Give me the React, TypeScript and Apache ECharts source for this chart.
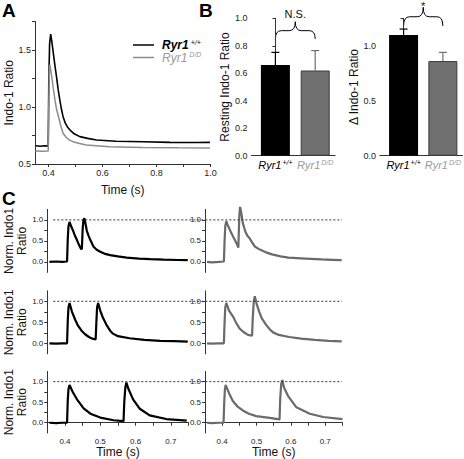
import React, { useEffect, useRef } from "react";
import * as echarts from "echarts";

// ---------- DATA ----------
const genotypeNames = ["Ryr1+/+", "Ryr1D/D"];

// Panel A: average Indo-1 ratio transients [time (s), ratio]
const traceA_WT: number[][] = [
  [0.352, 0.66], [0.37, 0.655], [0.385, 0.66], [0.399, 0.657], [0.401, 1.2], [0.404, 1.55],
  [0.408, 1.64], [0.412, 1.58], [0.418, 1.47], [0.424, 1.36], [0.43, 1.26], [0.436, 1.15],
  [0.442, 1.06], [0.448, 0.98], [0.454, 0.915], [0.462, 0.86], [0.47, 0.825], [0.479, 0.8],
  [0.495, 0.765], [0.516, 0.74], [0.545, 0.725], [0.578, 0.71], [0.65, 0.7], [0.75, 0.695],
  [0.85, 0.69], [0.95, 0.688], [0.998, 0.69],
];
const traceA_DD: number[][] = [
  [0.352, 0.615], [0.38, 0.612], [0.399, 0.615], [0.401, 1.0], [0.403, 1.3], [0.405, 1.37],
  [0.408, 1.33], [0.412, 1.266], [0.418, 1.16], [0.424, 1.06], [0.43, 0.98], [0.437, 0.915],
  [0.445, 0.84], [0.454, 0.77], [0.465, 0.735], [0.478, 0.71], [0.491, 0.696], [0.515, 0.68],
  [0.54, 0.667], [0.626, 0.652], [0.75, 0.645], [0.88, 0.642], [0.998, 0.64],
];

// Panel B: means and (upper) SEM
const restingMean = [0.66, 0.62];
const restingErr = [0.092, 0.145];
const deltaMean = [1.097, 0.861];
const deltaErr = [0.055, 0.079];

// Panel C: normalized Indo-1 ratio, paired stimuli at three intervals
const cRow1_WT: number[][] = [
  [0.356, 0.0], [0.375, 0.01], [0.392, 0.0], [0.406, 0.01], [0.408, 0.55], [0.41, 0.85],
  [0.413, 0.95], [0.417, 0.86], [0.424, 0.72], [0.429, 0.61], [0.434, 0.52], [0.44, 0.4],
  [0.446, 0.3], [0.448, 0.32], [0.45, 0.75], [0.452, 0.98], [0.455, 1.04], [0.458, 0.92],
  [0.462, 0.74], [0.467, 0.62], [0.472, 0.52], [0.477, 0.43], [0.481, 0.36], [0.49, 0.29],
  [0.5, 0.24], [0.514, 0.19], [0.528, 0.16], [0.55, 0.13], [0.575, 0.1], [0.61, 0.08],
  [0.642, 0.065], [0.68, 0.055], [0.72, 0.045], [0.748, 0.04],
];
const cRow2_WT: number[][] = [
  [0.356, 0.0], [0.375, -0.01], [0.392, 0.0], [0.406, 0.0], [0.408, 0.55], [0.41, 0.85],
  [0.413, 0.96], [0.42, 0.75], [0.429, 0.56], [0.437, 0.42], [0.447, 0.3], [0.458, 0.21],
  [0.468, 0.15], [0.478, 0.11], [0.487, 0.09], [0.489, 0.5], [0.491, 0.85], [0.494, 0.96],
  [0.5, 0.78], [0.508, 0.6], [0.519, 0.42], [0.528, 0.3], [0.536, 0.23], [0.55, 0.17],
  [0.583, 0.12], [0.625, 0.08], [0.67, 0.06], [0.71, 0.05], [0.748, 0.04],
];
const cRow3_WT: number[][] = [
  [0.356, 0.0], [0.375, -0.01], [0.392, 0.0], [0.406, 0.0], [0.408, 0.55], [0.41, 0.82],
  [0.413, 0.92], [0.422, 0.75], [0.434, 0.57], [0.453, 0.35], [0.472, 0.22], [0.5, 0.125],
  [0.538, 0.06], [0.566, 0.04], [0.568, 0.5], [0.571, 0.85], [0.574, 0.98], [0.58, 0.82],
  [0.593, 0.57], [0.612, 0.34], [0.64, 0.18], [0.687, 0.09], [0.745, 0.05],
];
const cRow1_DD: number[][] = [
  [0.356, 0.0], [0.37, -0.01], [0.39, 0.0], [0.405, 0.01], [0.407, 0.5], [0.409, 0.85],
  [0.412, 0.97], [0.416, 0.88], [0.422, 0.77], [0.427, 0.68], [0.432, 0.6], [0.437, 0.52],
  [0.442, 0.44], [0.447, 0.34], [0.448, 0.6], [0.45, 1.1], [0.452, 1.31], [0.455, 1.2],
  [0.46, 0.93], [0.467, 0.73], [0.473, 0.63], [0.48, 0.56], [0.488, 0.45], [0.496, 0.36],
  [0.506, 0.31], [0.516, 0.27], [0.53, 0.22], [0.545, 0.18], [0.57, 0.13], [0.593, 0.1],
  [0.642, 0.08], [0.69, 0.06], [0.72, 0.05], [0.748, 0.04],
];
const cRow2_DD: number[][] = [
  [0.356, 0.0], [0.37, -0.01], [0.39, 0.0], [0.405, 0.0], [0.407, 0.5], [0.409, 0.85],
  [0.412, 0.96], [0.42, 0.78], [0.432, 0.63], [0.441, 0.48], [0.451, 0.35], [0.462, 0.27],
  [0.475, 0.2], [0.487, 0.18], [0.489, 0.6], [0.492, 1.0], [0.495, 1.12], [0.501, 0.92],
  [0.508, 0.75], [0.515, 0.6], [0.527, 0.45], [0.539, 0.33], [0.548, 0.26], [0.565, 0.2],
  [0.595, 0.15], [0.63, 0.11], [0.67, 0.08], [0.71, 0.06], [0.748, 0.045],
];
const cRow3_DD: number[][] = [
  [0.356, 0.0], [0.37, -0.01], [0.39, 0.0], [0.404, 0.0], [0.406, 0.5], [0.408, 0.82],
  [0.41, 0.92], [0.42, 0.72], [0.431, 0.53], [0.444, 0.4], [0.46, 0.3], [0.478, 0.22],
  [0.499, 0.16], [0.538, 0.12], [0.567, 0.08], [0.569, 0.6], [0.572, 0.95], [0.575, 1.04],
  [0.58, 0.86], [0.592, 0.65], [0.616, 0.375], [0.655, 0.22], [0.694, 0.14], [0.75, 0.086],
];

// Tick values
const timeTicksA = [0.4, 0.5, 0.6, 0.7, 0.8, 0.9, 1.0];
const timeLabelsA = [0.4, 0.6, 0.8, 1.0];
const ratioTicksA = [0.5, 0.75, 1.0, 1.25, 1.5, 1.75];
const ratioLabelsA = [0.5, 1.0, 1.5];
const deltaTicks = [0, 0.25, 0.5, 0.75, 1.0, 1.25];
const deltaLabels = [0, 0.5, 1.0];
const timeTicksC = [0.4, 0.45, 0.5, 0.55, 0.6, 0.65, 0.7, 0.75];
const timeLabelsC = [0.4, 0.5, 0.6, 0.7];
const normTicksC = [0, 0.25, 0.5, 0.75, 1.0];
const normLabelsC = [0, 0.5, 1.0];

// ---------- STYLE ----------
const FONT = '"Liberation Sans", Arial, sans-serif';
const AXIS_COLOR = "#333";
const LABEL_COLOR = "#222";
const GRAY_BAR = "#6f6f6f";
const GRAY_A = "#8c8c8c";
const GRAY_C = "#6a6a6a";

const makeRich = (size: number, lh: number, weight: string, supPad: number) => ({
  w: { fontStyle: "italic", fontWeight: weight, fontSize: size, color: "#000", lineHeight: lh, fontFamily: FONT },
  ws: { fontStyle: "italic", fontSize: 7, color: "#000", lineHeight: 7, verticalAlign: "top", padding: [0, 0, 0, supPad], fontFamily: FONT },
  g: { fontStyle: "italic", fontSize: size, color: "#9a9a9a", lineHeight: lh, fontFamily: FONT },
  gs: { fontStyle: "italic", fontSize: 7, color: "#9a9a9a", lineHeight: 7, verticalAlign: "top", padding: [0, 0, 0, supPad], fontFamily: FONT },
});
const legendRich = makeRich(12, 13, "bold", 2);
const catRich = makeRich(11, 13, "normal", 1);
const genoFmt = (i: number) => (i === 0 ? "{w|Ryr1}{ws|+/+}" : "{g|Ryr1}{gs|D/D}");

const axisLineStyle = { lineStyle: { color: AXIS_COLOR, width: 1 } };
const nameStyle = { fontSize: 12, color: "#111", fontFamily: FONT };

const rowTops = [209.4, 290.8, 371.4];
const ROW_H = 63;

function buildOption(): any {
  const grid: any[] = [
    { left: 35, top: 21.5, width: 175.5, height: 142.5 },
    { left: 251.5, top: 18.3, width: 83.6, height: 137.4 },
    { left: 380, top: 18.3, width: 83.4, height: 137.4 },
  ];
  rowTops.forEach((t) => grid.push({ left: 47.3, top: t, width: 141.2, height: ROW_H }));
  rowTops.forEach((t) => grid.push({ left: 205, top: t, width: 137.4, height: ROW_H }));

  const xAxis: any[] = [
    {
      type: "value", gridIndex: 0, min: 0.35, max: 1.0,
      axisLine: axisLineStyle, splitLine: { show: false },
      axisTick: { customValues: timeTicksA, length: 3, lineStyle: { color: AXIS_COLOR } },
      axisLabel: { customValues: timeLabelsA, formatter: (v: number) => v.toFixed(1), fontSize: 9, color: LABEL_COLOR, margin: 4, fontFamily: FONT },
      name: "Time (s)", nameLocation: "middle", nameGap: 20, nameTextStyle: nameStyle,
    },
  ];
  [1, 2].forEach((gi) =>
    xAxis.push({
      type: "value", gridIndex: gi, min: -0.6, max: 1.5,
      axisLine: axisLineStyle, splitLine: { show: false }, axisTick: { show: false },
      axisLabel: {
        customValues: [0, 1], showMinLabel: true, showMaxLabel: true, hideOverlap: false,
        formatter: (v: number) => genoFmt(Math.round(v)), rich: catRich, margin: 3,
      },
    })
  );
  for (let c = 0; c < 2; c++) {
    for (let r = 0; r < 3; r++) {
      const gi = 3 + c * 3 + r;
      const bottom = r === 2;
      xAxis.push({
        type: "value", gridIndex: gi, min: 0.35, max: 0.75, show: bottom,
        axisLine: axisLineStyle, splitLine: { show: false },
        axisTick: { customValues: timeTicksC, length: 3, lineStyle: { color: AXIS_COLOR } },
        axisLabel: { customValues: timeLabelsC, formatter: (v: number) => v.toFixed(1), fontSize: 8, color: LABEL_COLOR, margin: 4, fontFamily: FONT },
        name: bottom ? "Time (s)" : "", nameLocation: "middle", nameGap: 13, nameTextStyle: nameStyle,
      });
    }
  }

  const yAxis: any[] = [
    {
      type: "value", gridIndex: 0, min: 0.5, max: 1.75,
      axisLine: { show: true, ...axisLineStyle }, splitLine: { show: false },
      axisTick: { show: true, customValues: ratioTicksA, length: 3, lineStyle: { color: AXIS_COLOR } },
      axisLabel: { customValues: ratioLabelsA, formatter: (v: number) => v.toFixed(1), fontSize: 9, color: LABEL_COLOR, margin: 4, fontFamily: FONT },
      name: "Indo-1 Ratio", nameLocation: "middle", nameGap: 19, nameTextStyle: nameStyle,
    },
    {
      type: "value", gridIndex: 1, min: 0, max: 1.0, interval: 0.2,
      axisLine: { show: true, ...axisLineStyle }, splitLine: { show: false },
      axisTick: { show: true, length: 3, lineStyle: { color: AXIS_COLOR } },
      axisLabel: { formatter: (v: number) => v.toFixed(1), fontSize: 9, color: LABEL_COLOR, margin: 4, fontFamily: FONT },
      name: "Resting Indo-1 Ratio", nameLocation: "middle", nameGap: 19, nameTextStyle: nameStyle,
    },
    {
      type: "value", gridIndex: 2, min: 0, max: 1.25,
      axisLine: { show: true, ...axisLineStyle }, splitLine: { show: false },
      axisTick: { show: true, customValues: deltaTicks, length: 3, lineStyle: { color: AXIS_COLOR } },
      axisLabel: { customValues: deltaLabels, formatter: (v: number) => v.toFixed(1), fontSize: 9, color: LABEL_COLOR, margin: 4, fontFamily: FONT },
      name: "\u0394 Indo-1 Ratio", nameLocation: "middle", nameGap: 17, nameTextStyle: nameStyle,
    },
  ];
  for (let c = 0; c < 2; c++) {
    for (let r = 0; r < 3; r++) {
      const gi = 3 + c * 3 + r;
      yAxis.push({
        type: "value", gridIndex: gi, min: -0.25, max: 1.25,
        axisLine: { show: true, ...axisLineStyle }, splitLine: { show: false },
        axisTick: { show: true, customValues: normTicksC, length: 3, lineStyle: { color: AXIS_COLOR } },
        axisLabel: { customValues: normLabelsC, formatter: (v: number) => v.toFixed(1), fontSize: 8, color: LABEL_COLOR, margin: 4, fontFamily: FONT },
        name: c === 0 ? "Norm. Indo1\nRatio" : "", nameLocation: "middle", nameGap: 14,
        nameTextStyle: { ...nameStyle, lineHeight: 13 },
      });
    }
  }

  const errRender = (params: any, api: any) => {
    const x = api.value(0), m = api.value(1), e = api.value(2);
    const base = api.coord([x, m]);
    const top = api.coord([x, m + e]);
    const color = params.dataIndex === 0 ? "#000" : GRAY_BAR;
    return {
      type: "group",
      children: [
        { type: "line", shape: { x1: base[0], y1: base[1], x2: top[0], y2: top[1] }, style: { stroke: color, lineWidth: 1.2 } },
        { type: "line", shape: { x1: top[0] - 4, y1: top[1], x2: top[0] + 4, y2: top[1] }, style: { stroke: color, lineWidth: 1.2 } },
      ],
    };
  };
  const barData = (means: number[]) => [
    { value: [0, means[0]], itemStyle: { color: "#000" } },
    { value: [1, means[1]], itemStyle: { color: GRAY_BAR, borderColor: "#3c3c3c", borderWidth: 1 } },
  ];

  const lineS = (name: string, data: number[][], gi: number, color: string, width: number) => ({
    type: "line", name, data, xAxisIndex: gi, yAxisIndex: gi, showSymbol: false, symbol: "none",
    lineStyle: { color, width }, itemStyle: { color }, clip: false,
  });

  const series: any[] = [
    lineS(genotypeNames[0], traceA_WT, 0, "#000", 1.6),
    lineS(genotypeNames[1], traceA_DD, 0, GRAY_A, 1.5),
    { type: "bar", name: "resting", xAxisIndex: 1, yAxisIndex: 1, barWidth: 29, data: barData(restingMean) },
    { type: "custom", name: "restingErr", xAxisIndex: 1, yAxisIndex: 1, renderItem: errRender, encode: { x: 0, y: 1 },
      data: restingMean.map((m, i) => [i, m, restingErr[i]]) },
    { type: "bar", name: "delta", xAxisIndex: 2, yAxisIndex: 2, barWidth: 29, data: barData(deltaMean) },
    { type: "custom", name: "deltaErr", xAxisIndex: 2, yAxisIndex: 2, renderItem: errRender, encode: { x: 0, y: 1 },
      data: deltaMean.map((m, i) => [i, m, deltaErr[i]]) },
    lineS("C1 WT", cRow1_WT, 3, "#000", 2.2),
    lineS("C2 WT", cRow2_WT, 4, "#000", 2.2),
    lineS("C3 WT", cRow3_WT, 5, "#000", 2.2),
    lineS("C1 DD", cRow1_DD, 6, GRAY_C, 2.2),
    lineS("C2 DD", cRow2_DD, 7, GRAY_C, 2.2),
    lineS("C3 DD", cRow3_DD, 8, GRAY_C, 2.2),
  ];

  return {
    animation: false,
    backgroundColor: "#fff",
    textStyle: { fontFamily: FONT },
    grid, xAxis, yAxis, series,
    legend: {
      data: genotypeNames.map((n) => ({ name: n, icon: "rect" })),
      orient: "vertical", left: 128, top: 33.5, itemWidth: 21, itemHeight: 1.5, itemGap: 0,
      selectedMode: false,
      formatter: (n: string) => genoFmt(genotypeNames.indexOf(n)),
      textStyle: { rich: legendRich, padding: [0, 0, 0, 3] },
    },
  };
}

function brace(x0: number, x1: number, yEnd: number, yMid: number, yTip: number) {
  const xc = (x0 + x1) / 2;
  const r = Math.min(6, (xc - x0) / 3);
  const st = { stroke: "#000", fill: "none", lineWidth: 1 };
  return [
    { type: "bezierCurve", shape: { x1: x0, y1: yEnd, cpx1: x0, cpy1: yMid, x2: x0 + r, y2: yMid }, style: st },
    { type: "line", shape: { x1: x0 + r, y1: yMid, x2: xc - r, y2: yMid }, style: st },
    { type: "bezierCurve", shape: { x1: xc - r, y1: yMid, cpx1: xc, cpy1: yMid, x2: xc, y2: yTip }, style: st },
    { type: "bezierCurve", shape: { x1: xc, y1: yTip, cpx1: xc, cpy1: yMid, x2: xc + r, y2: yMid }, style: st },
    { type: "line", shape: { x1: xc + r, y1: yMid, x2: x1 - r, y2: yMid }, style: st },
    { type: "bezierCurve", shape: { x1: x1 - r, y1: yMid, cpx1: x1, cpy1: yMid, x2: x1, y2: yEnd }, style: st },
  ];
}

export default function App() {
  const ref = useRef<HTMLDivElement>(null);
  useEffect(() => {
    if (!ref.current) return;
    const chart = echarts.init(ref.current, undefined, { renderer: "svg" });
    chart.setOption(buildOption());

    const px = (gi: number, x: number, y: number) => chart.convertToPixel({ xAxisIndex: gi, yAxisIndex: gi } as any, [x, y]) as number[];
    const letter = (t: string, x: number, y: number) => ({
      type: "text", x, y, style: { text: t, fill: "#000", font: `bold 19px ${FONT}`, verticalAlign: "top", align: "left" },
    });
    const g: any[] = [letter("A", 2, 1), letter("B", 199, 1), letter("C", 2, 189)];

    // braces
    const bL0 = px(1, 0, 0.85), bL1 = px(1, 1, 0.85), bLm = px(1, 0, 0.91), bLt = px(1, 0, 0.975);
    g.push(...brace(bL0[0], bL1[0], bL0[1], bLm[1], bLt[1]));
    g.push({ type: "text", x: (bL0[0] + bL1[0]) / 2, y: bLt[1] - 8,
      style: { text: "N.S.", fill: "#111", font: `11px ${FONT}`, align: "center", verticalAlign: "middle" } });
    const bR0 = px(2, 0, 1.18), bR1 = px(2, 1, 1.18), bRm = px(2, 0, 1.264), bRt = px(2, 0, 1.35);
    g.push(...brace(bR0[0], bR1[0], bR0[1], bRm[1], bRt[1]));
    g.push({ type: "text", x: (bR0[0] + bR1[0]) / 2, y: 0.5,
      style: { text: "*", fill: "#111", font: `11px ${FONT}`, align: "center", verticalAlign: "top" } });

    // dashed reference lines at 1.0 across panel C rows
    for (let r = 0; r < 3; r++) {
      const a = px(3 + r, 0.367, 1.0);
      const b = px(6 + r, 0.7485, 1.0);
      g.push({ type: "line", shape: { x1: a[0], y1: a[1], x2: b[0], y2: b[1] },
        style: { stroke: "#333", lineWidth: 1, lineDash: [2, 2] }, z: 10 });
    }
    chart.setOption({ graphic: g });
    return () => chart.dispose();
  }, []);
  return <div ref={ref} style={{ position: "fixed", left: 0, top: 0, width: 464, height: 459, background: "#fff" }} />;
}
